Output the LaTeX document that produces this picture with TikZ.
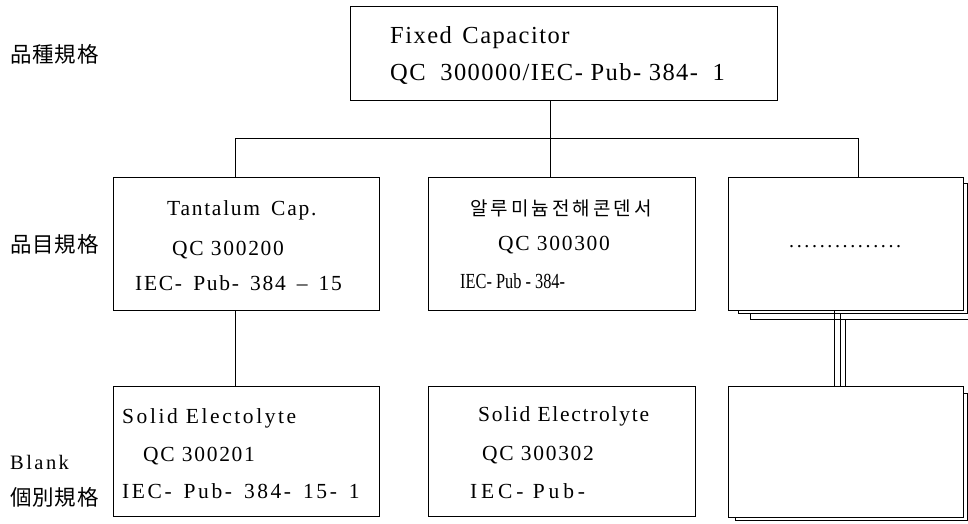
\documentclass[tikz,border=0pt]{standalone}
\usepackage{fontspec}
\usepackage{graphicx}
\setmainfont{Liberation Serif}
\newfontfamily\krfont{Noto Sans CJK KR}
\newfontfamily\jpfont{Noto Sans CJK JP}
\newcommand\wsp{\hspace{4pt}}
\begin{document}
\begin{tikzpicture}[x=1pt,y=-1pt,
  box/.style={draw, line width=1pt, fill=white, inner sep=0pt, rectangle},
  conn/.style={draw, line width=1pt},
  txt/.style={anchor=base west, inner sep=0pt, font=\fontsize{21.5}{21.5}\selectfont\addfontfeature{LetterSpace=8}},
  txtw/.style={anchor=base west, inner sep=0pt, font=\fontsize{21.5}{21.5}\selectfont\addfontfeature{LetterSpace=12}},
  txtn/.style={anchor=base west, inner sep=0pt, font=\fontsize{21.5}{21.5}\selectfont},
  txtww/.style={anchor=base west, inner sep=0pt, font=\fontsize{21.5}{21.5}\selectfont\addfontfeature{LetterSpace=18}},
  toptxt/.style={anchor=base west, inner sep=0pt, font=\fontsize{24.5}{24.5}\selectfont\addfontfeature{LetterSpace=6}},
  krtxt/.style={anchor=base west, inner sep=0pt, font=\krfont\fontsize{19}{19}\selectfont\addfontfeature{LetterSpace=16}},
  lbl/.style={anchor=base west, inner sep=0pt, font=\jpfont\fontsize{21.5}{21.5}\selectfont\addfontfeature{LetterSpace=4}}]
\useasboundingbox (0,0) rectangle (968,523);
\clip (0,0) rectangle (968,523);

% boxes
\node[box, minimum width=427pt, minimum height=94pt] (fc) at (563.5,53) {};
\node[box, minimum width=266pt, minimum height=133pt] (tan) at (246,243.5) {};
\node[box, minimum width=267pt, minimum height=133pt] (alu) at (561.5,243.5) {};
\node[box, minimum width=230pt, minimum height=130pt] (oths2) at (865,254) {};
\node[box, minimum width=229pt, minimum height=130pt] (oths1) at (852.5,248) {};
\node[box, minimum width=235pt, minimum height=133pt] (oth) at (845.5,243.5) {};
\node[box, minimum width=266pt, minimum height=130pt] (se1) at (246,451) {};
\node[box, minimum width=267pt, minimum height=130pt] (se2) at (561.5,451) {};
\node[box, minimum width=232pt, minimum height=127pt] (oth2s) at (851,456.5) {};
\node[box, minimum width=235pt, minimum height=131pt] (oth2) at (845.5,451.5) {};

% connectors
\coordinate (trunk) at (550,0);
\coordinate (busL) at (235,138);
\coordinate (busR) at (858,138);
\coordinate (r1) at (834,0);
\coordinate (r2) at (840,0);
\coordinate (r3) at (845,0);
\draw[conn] (fc.south -| trunk) -- (alu.north -| trunk);
\draw[conn] (tan.north -| busL) |- (busR) -- (oth.north -| busR);
\draw[conn] (tan.south -| busL) -- (se1.north -| busL);
\draw[conn] (oth.south -| r1) -- (oth2.north -| r1);
\draw[conn] (oths1.south -| r2) -- (oth2.north -| r2);
\draw[conn] (oths2.south -| r3) -- (oth2.north -| r3);

% texts
\node[toptxt] (fc1) at (390,43) {Fixed\hspace{3pt} Capacitor};
\node[toptxt] (fc2) at (390,80) {QC\hspace{7pt} 300000/IEC- Pub- 384-\hspace{7pt} 1};

\node[txt] (tan1) at (167,215) {Tantalum\wsp{} Cap.};
\node[txt] (tan2) at (172,255) {QC 300200};
\node[txt] (tan3) at (135,290) {IEC-\wsp{} Pub-\wsp{} 384\wsp{} –\wsp{} 15};

\node[krtxt] (alu1) at (470,215.5) {알루미늄전해콘덴서};
\node[txt] (alu2) at (498,250) {QC 300300};
\node[txtn] (alu3) at (460,288) {\scalebox{0.76}[1]{IEC- Pub - 384-}};

\node[anchor=base west, inner sep=0pt, font=\fontsize{20}{20}\selectfont] (dots) at (789,247)
  {\hbox to 112pt{.\hfil.\hfil.\hfil.\hfil.\hfil.\hfil.\hfil.\hfil.\hfil.\hfil.\hfil.\hfil.\hfil.\hfil.}};

\node[txtw] (se11) at (122,423) {Solid Electolyte};
\node[txt] (se12) at (143,461) {QC 300201};
\node[txtw] (se13) at (122,498) {IEC-\wsp{} Pub-\wsp{} 384-\wsp{} 15-\wsp{} 1};

\node[txt] (se21) at (478,421) {Solid Electrolyte};
\node[txt] (se22) at (482,460) {QC 300302};
\node[txtww] (se23) at (470,498) {IEC- Pub-};

% row labels
\node[lbl] (l1) at (10,62) {品種規格};
\node[lbl] (l2) at (10,252) {品目規格};
\node[anchor=base west, inner sep=0pt, font=\fontsize{20.5}{20.5}\selectfont\addfontfeature{LetterSpace=12}] (l3) at (10,469) {Blank};
\node[lbl] (l4) at (10,505) {個別規格};
\end{tikzpicture}
\end{document}
